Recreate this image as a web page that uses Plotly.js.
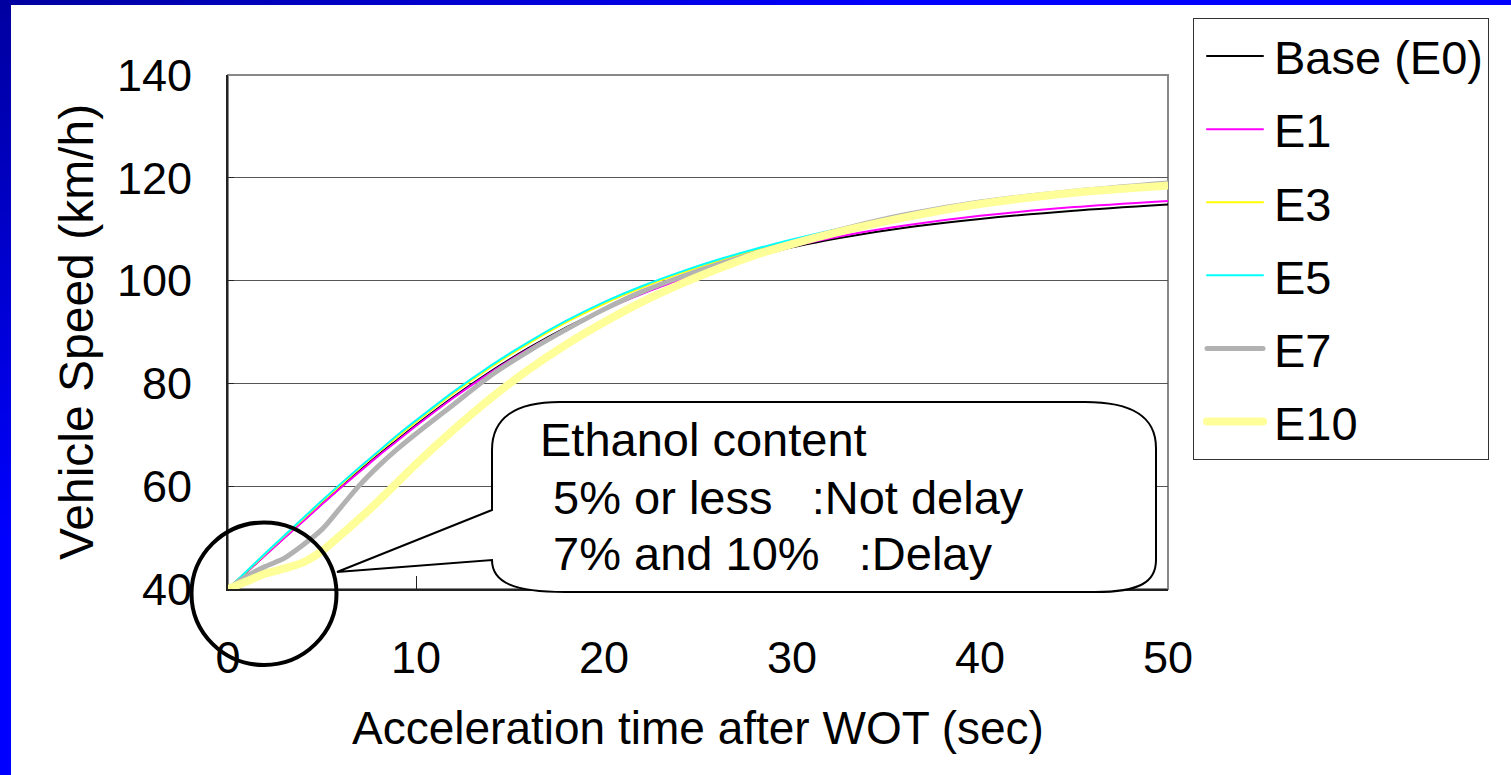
<!DOCTYPE html>
<html>
<head>
<meta charset="utf-8">
<script src="https://cdn.plot.ly/plotly-3.0.1.min.js"></script>
<style>
  html, body { margin:0; padding:0; background:#ffffff; width:1511px; height:775px; overflow:hidden; }
  #chart { position:absolute; left:0; top:0; width:1511px; height:775px; }
  #blueTop { position:absolute; left:0; top:0; width:1511px; height:5px; background:linear-gradient(to right,#0000a0,#0000ff 60%); z-index:5; }
  #blueLeft { position:absolute; left:0; top:0; width:11px; height:775px; background:linear-gradient(to bottom,#0000a0,#0000ff 70%); z-index:5; }
</style>
</head>
<body>
<div id="chart"></div>
<div id="blueTop"></div>
<div id="blueLeft"></div>
<script>
// ---- data ----
const time = [0,1,2,3,4,5,6,7,8,9,10,12,14,16,18,20,22,24,26,28,30,33,36,40,45,50];
const speedE0  = [40,43.3,46.7,50.0,53.3,56.6,59.8,63.0,66.1,69.0,71.9,77.4,82.4,86.9,90.9,94.4,97.5,100.2,102.5,104.6,106.5,108.6,110.3,112.0,113.6,114.8];
const speedE1  = [40,43.3,46.6,49.9,53.2,56.5,59.7,62.8,65.9,68.8,71.7,77.2,82.2,86.7,90.7,94.3,97.4,100.1,102.5,104.6,106.6,108.9,110.7,112.6,114.3,115.5];
const speedE3  = [40,43.4,46.9,50.3,53.6,57.0,60.3,63.5,66.6,69.6,72.5,78.1,83.2,87.8,91.9,95.5,98.6,101.3,103.7,105.8,107.8,110.3,112.5,114.9,117.1,118.6];
const speedE5  = [40,43.5,47.0,50.4,53.8,57.2,60.5,63.7,66.8,69.9,72.8,78.4,83.5,88.1,92.2,95.8,98.9,101.6,104.0,106.1,108.0,110.5,112.7,115.1,117.3,118.8];
const speedE7  = [40,42.5,44.4,46.0,48.6,51.6,55.9,60.2,63.9,67.2,70.2,75.9,81.6,86.3,90.5,94.4,97.8,100.6,103.1,105.3,107.4,110.3,112.8,115.3,117.4,119.0];
const speedE10 = [40,41.5,43.0,44.0,45.2,47.4,50.5,53.7,57.1,60.7,64.3,71.0,77.2,82.7,87.6,91.9,95.8,99.2,102.2,104.9,107.1,109.9,112.3,114.9,117.1,118.5];

const seriesNames = ["Base (E0)", "E1", "E3", "E5", "E7", "E10"];
const xTickVals = [0,10,20,30,40,50];
const yTickVals = [40,60,80,100,120,140];
const xTitle = "Acceleration time after WOT (sec)";
const yTitle = "Vehicle Speed (km/h)";
const calloutLines = ["Ethanol content", "\u00a05% or less\u00a0\u00a0\u00a0:Not delay", "\u00a07% and 10%\u00a0\u00a0\u00a0:Delay"];

// ---- styles ----
const seriesData = [speedE0, speedE1, speedE3, speedE5, speedE7, speedE10];
const colors = ["#000000", "#ff00ff", "#ffff00", "#00ffff", "#b2b2b2", "#ffff99"];
const widths = [2, 2, 2, 2, 5, 8];

const FONT = "Liberation Sans, Arial, sans-serif";

const traces = seriesData.map((ys, i) => ({
  type: "scatter", mode: "lines",
  x: time, y: ys, name: seriesNames[i],
  legendgroup: "g" + i,
  line: { color: colors[i], width: widths[i], shape: "spline", smoothing: 0.8 },
  hoverinfo: "skip"
}));

// plot area in page pixels
const L = 228, R = 1168, T = 75, B = 589;
const W = 1511, H = 775;
const px = p => (p - L) / (R - L);
const py = p => (B - p) / (B - T);

// callout bubble path (paper coordinates)
function P(x, y) { return px(x).toFixed(5) + "," + py(y).toFixed(5); }
const bubble =
  "M" + P(492,510) + " L" + P(337,572) + " L" + P(492,560) +
  " C" + P(492,583) + " " + P(515,592) + " " + P(565,592) +
  " L" + P(1095,592) +
  " C" + P(1140,592) + " " + P(1156,582) + " " + P(1156,560) +
  " L" + P(1156,448) +
  " C" + P(1156,415) + " " + P(1130,402) + " " + P(1085,402) +
  " L" + P(560,402) +
  " C" + P(515,402) + " " + P(492,418) + " " + P(492,450) + " Z";

const shapes = [
  { type: "rect", xref: "paper", yref: "paper", x0: 0, x1: 1, y0: 0, y1: 1,
    line: { color: "#888888", width: 2 }, layer: "below" },
  { type: "path", xref: "paper", yref: "paper", path: bubble,
    fillcolor: "#ffffff", line: { color: "#000000", width: 2 }, layer: "above" },
  { type: "circle", xref: "paper", yref: "paper",
    x0: px(191.5), x1: px(336.5), y0: py(665), y1: py(522.5),
    line: { color: "#000000", width: 4 }, layer: "above" }
];

const annFont = { family: FONT, size: 47, color: "#000" };
const annotations = [
  { xref: "paper", yref: "paper", x: px(538), y: py(440), xanchor: "left", yanchor: "middle",
    text: calloutLines[0], showarrow: false, font: annFont },
  { xref: "paper", yref: "paper", x: px(538), y: py(497), xanchor: "left", yanchor: "middle",
    text: calloutLines[1], showarrow: false, font: annFont },
  { xref: "paper", yref: "paper", x: px(538), y: py(553), xanchor: "left", yanchor: "middle",
    text: calloutLines[2], showarrow: false, font: annFont }
];

const layout = {
  width: W, height: H,
  margin: { l: L, r: W - R, t: T, b: H - B, pad: 0 },
  paper_bgcolor: "#ffffff", plot_bgcolor: "#ffffff",
  font: { family: FONT, color: "#000000" },
  showlegend: true,
  legend: {
    x: px(1193), y: py(18), xanchor: "left", yanchor: "top",
    bordercolor: "#333333", borderwidth: 1, bgcolor: "#ffffff",
    font: { family: FONT, size: 47, color: "#000" },
    tracegroupgap: 9, itemwidth: 70, maxheight: 760
  },
  xaxis: {
    range: [0, 50], tickvals: xTickVals, ticktext: xTickVals.map(String),
    showgrid: false, zeroline: false,
    showline: true, linecolor: "#222222", linewidth: 2,
    ticks: "inside", ticklen: 13, tickcolor: "#222222", tickwidth: 1,
    tickfont: { family: FONT, size: 45, color: "#000" },
    ticklabelstandoff: 28,
    title: { text: xTitle, font: { family: FONT, size: 46, color: "#000" }, standoff: 30 }
  },
  yaxis: {
    range: [40, 140], tickvals: yTickVals, ticktext: yTickVals.map(String),
    showgrid: true, gridcolor: "#555555", gridwidth: 1, zeroline: false,
    showline: true, linecolor: "#222222", linewidth: 2,
    ticks: "inside", ticklen: 6, tickcolor: "#222222",
    tickfont: { family: FONT, size: 45, color: "#000" },
    ticklabelstandoff: 25,
    title: { text: yTitle, font: { family: FONT, size: 48, color: "#000" }, standoff: 8 }
  },
  shapes: shapes,
  annotations: annotations
};

Plotly.newPlot("chart", traces, layout, { staticPlot: true, displayModeBar: false }).then(gd => {
  // lengthen legend line samples to match the reference
  gd.querySelectorAll(".legend .legendlines path").forEach(p => {
    p.setAttribute("d", "M13,0h56");
    p.style.strokeLinecap = "round";
  });
});
</script>
</body>
</html>
